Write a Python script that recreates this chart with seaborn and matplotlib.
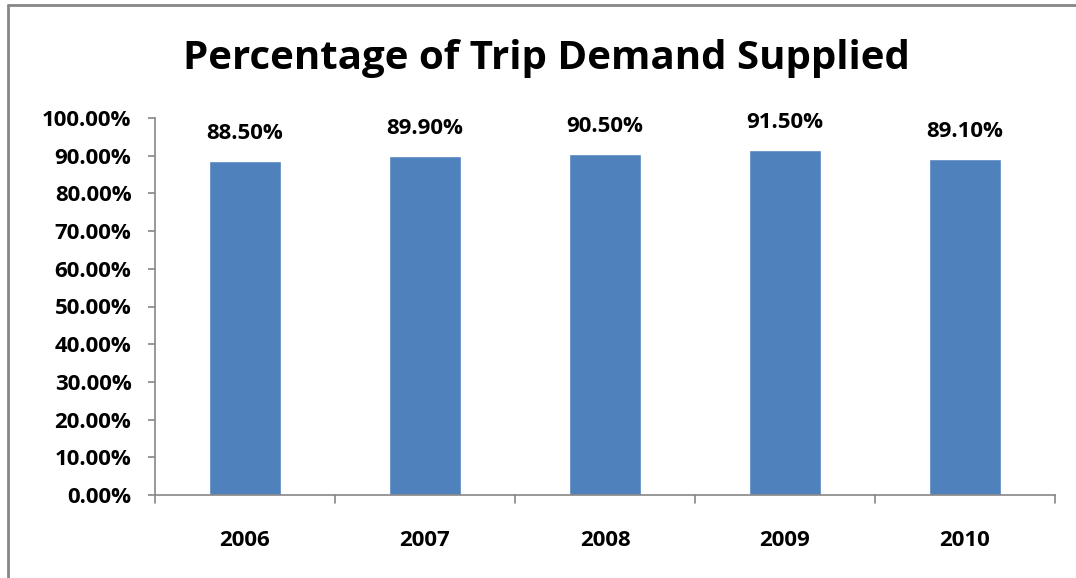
import matplotlib
matplotlib.use("Agg")
import matplotlib.pyplot as plt
import seaborn as sns
import pandas as pd
from matplotlib.lines import Line2D
from matplotlib.ticker import FuncFormatter, MultipleLocator

years = ["2006", "2007", "2008", "2009", "2010"]
supplied_pct = [88.5, 89.9, 90.5, 91.5, 89.1]

df = pd.DataFrame({"year": years, "pct": supplied_pct})

sns.set_style("white")
plt.rcParams["font.family"] = ["Open Sans", "DejaVu Sans"]
plt.rcParams["font.weight"] = "bold"
plt.rcParams["text.color"] = "black"

fig = plt.figure(figsize=(10.76, 5.78), dpi=100)
ax = fig.add_axes([155 / 1076, (578 - 495) / 578, (1055 - 155) / 1076, (495 - 118) / 578])

sns.barplot(data=df, x="year", y="pct", color="#4F81BD", saturation=1, width=0.4, ax=ax)

ax.set_ylim(0, 100)
ax.set_xlim(-0.5, len(years) - 0.5)
ax.yaxis.set_major_locator(MultipleLocator(10))
ax.yaxis.set_major_formatter(FuncFormatter(lambda v, p: f"{v:.2f}%"))

# value labels above bars
for i, v in enumerate(supplied_pct):
    ax.annotate(f"{v:.2f}%", (i, v), xytext=(0, 20), textcoords="offset points",
                ha="center", va="center", fontsize=16, fontweight="bold", color="black")

# category ticks sit between the bars
ax.set_xticks(range(len(years)))
ax.set_xticklabels(years, fontsize=16, fontweight="bold")
ax.tick_params(axis="x", length=0, pad=25, labelcolor="black")
for b in [i - 0.5 for i in range(len(years) + 1)]:
    ax.plot([b, b], [0, -2.1], color="#868686", lw=1.2, clip_on=False)

ax.tick_params(axis="y", length=5, width=1.2, color="#868686", labelcolor="black",
               labelsize=16, pad=12, left=True)
for lab in ax.get_yticklabels():
    lab.set_fontweight("bold")

for s in ["top", "right"]:
    ax.spines[s].set_visible(False)
for s in ["left", "bottom"]:
    ax.spines[s].set_color("#868686")
    ax.spines[s].set_linewidth(1.2)

ax.set_xlabel("")
ax.set_ylabel("")

fig.text(546 / 1076, 1 - 58 / 578, "Percentage of Trip Demand Supplied",
         ha="center", va="center", fontsize=29, fontweight="bold", color="black")

# chart area border (left and top edges visible)
fig.add_artist(Line2D([8 / 1076, 8 / 1076], [0, 1 - 4.5 / 578], transform=fig.transFigure,
                      color="#868686", lw=2))
fig.add_artist(Line2D([8 / 1076, 1], [1 - 4.5 / 578, 1 - 4.5 / 578], transform=fig.transFigure,
                      color="#868686", lw=2))

fig.savefig("out.png", dpi=100, facecolor="white")
